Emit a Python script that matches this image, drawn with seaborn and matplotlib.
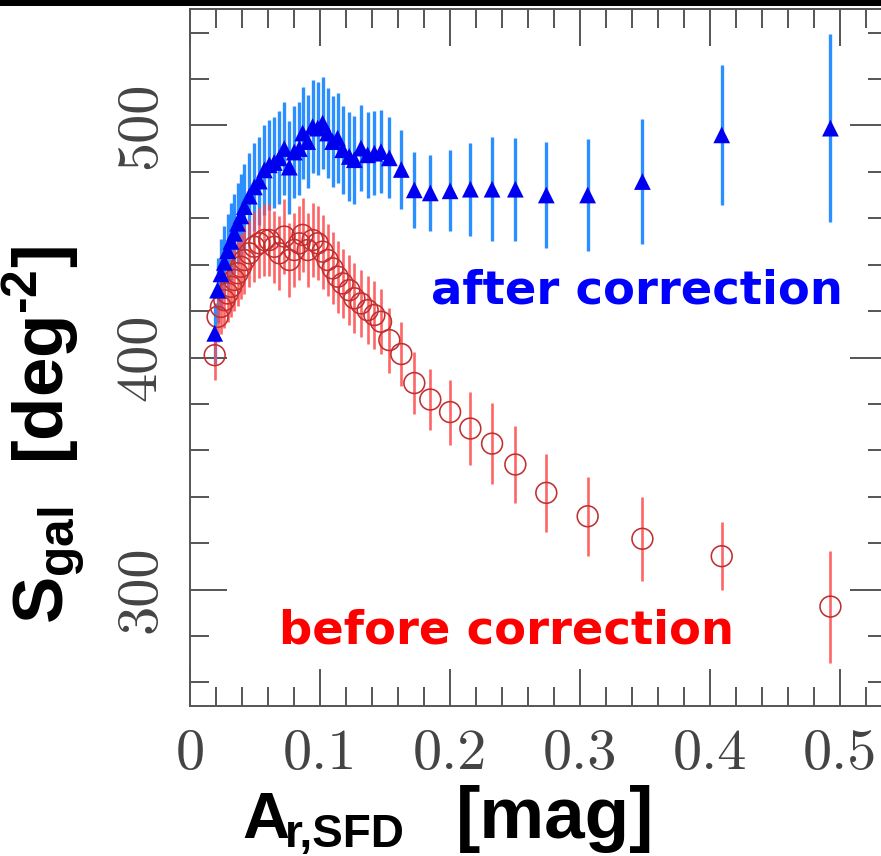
import matplotlib
matplotlib.use("Agg")
import matplotlib.pyplot as plt
import pandas as pd
import seaborn as sns
from matplotlib.patches import Rectangle
from matplotlib.ticker import MultipleLocator

# Extinction bins (A_r from SFD map, mag)
a_r = [0.0190, 0.0212, 0.0238, 0.0264, 0.0289, 0.0315, 0.0341, 0.0366, 0.0392, 0.0418,
       0.0456, 0.0495, 0.0533, 0.0572, 0.0610, 0.0648, 0.0687, 0.0725, 0.0764, 0.0802,
       0.0841, 0.0866, 0.0905, 0.0943, 0.0982, 0.1020, 0.1058, 0.1097, 0.1135, 0.1174,
       0.1225, 0.1264, 0.1315, 0.1366, 0.1418, 0.1469, 0.1533, 0.1625,
       0.1725, 0.1848, 0.2000, 0.2156, 0.2323, 0.2502, 0.2740, 0.3058, 0.3479, 0.4089, 0.4925]

# Galaxy surface density before the extinction correction (deg^-2)
s_before = [401.0, 417.5, 421.8, 424.7, 427.6, 430.5, 433.4, 436.3, 439.1, 442.0,
            444.9, 447.7, 449.2, 450.6, 450.6, 447.7, 444.9, 452.1, 442.0, 446.3,
            449.2, 452.8, 446.3, 450.6, 449.2, 445.6, 442.0, 438.4, 434.8, 431.9,
            429.0, 425.5, 423.3, 420.4, 418.3, 415.4, 407.5, 401.5,
            389.0, 381.9, 376.5, 369.4, 362.9, 353.9, 341.7, 331.6, 321.9, 314.4, 292.7]
err_before = [10.5, 11.0, 11.5, 12.0, 12.5, 13.0, 13.5, 14.0, 14.0, 14.5,
              14.5, 15.0, 15.0, 15.5, 15.5, 15.5, 16.0, 16.0, 16.0, 16.0,
              16.0, 16.0, 16.0, 16.0, 16.0, 16.0, 15.5, 15.5, 15.5, 15.0,
              15.0, 15.0, 14.5, 14.5, 14.5, 14.0, 14.0, 13.7,
              13.3, 13.3, 14.0, 15.6, 17.3, 16.6, 16.7, 17.0, 18.1, 14.7, 24.1]

# Galaxy surface density after the extinction correction (deg^-2)
s_after = [410.4, 429.0, 436.0, 441.0, 446.0, 450.0, 453.5, 457.8, 461.0, 465.0,
           469.5, 473.5, 476.0, 480.8, 483.0, 484.0, 486.0, 490.0, 482.0, 488.5,
           490.0, 496.7, 493.0, 499.5, 498.8, 501.0, 496.7, 493.0, 494.5, 489.5,
           486.6, 485.2, 490.2, 487.3, 488.0, 488.7, 486.0, 481.0,
           472.2, 470.9, 471.8, 472.5, 472.5, 472.5, 470.0, 470.0, 475.8, 495.9, 498.8]
err_after = [13.0, 14.0, 15.0, 15.5, 16.0, 16.5, 17.0, 17.5, 18.0, 18.5,
             18.5, 19.0, 19.0, 19.5, 19.5, 19.5, 20.0, 20.0, 20.0, 20.0,
             20.0, 20.0, 20.0, 20.0, 20.0, 20.0, 19.5, 19.5, 19.5, 19.0,
             19.0, 19.0, 18.5, 18.5, 18.0, 18.0, 17.5, 17.0,
             16.3, 16.3, 17.5, 20.1, 22.4, 22.1, 22.8, 24.0, 27.1, 30.2, 40.4]

x_ticks = [0.0, 0.1, 0.2, 0.3, 0.4, 0.5]
x_tick_labels = ["0", "0.1", "0.2", "0.3", "0.4", "0.5"]
y_ticks = [300, 400, 500]
y_tick_labels = ["300", "400", "500"]

sns.set_style("white")
plt.rcParams.update({
    "font.family": ["Liberation Sans", "DejaVu Sans"],
    "mathtext.fontset": "custom",
    "mathtext.rm": "Liberation Sans:bold",
    "mathtext.it": "Liberation Sans:bold",
    "mathtext.bf": "Liberation Sans:bold",
    "xtick.bottom": True, "xtick.top": True,
    "ytick.left": True, "ytick.right": True,
    "xtick.direction": "in", "ytick.direction": "in",
    "xtick.major.size": 26.5, "ytick.major.size": 26.5,
    "xtick.minor.size": 13.5, "ytick.minor.size": 13.5,
    "xtick.major.width": 1.4, "ytick.major.width": 1.4,
    "xtick.minor.width": 1.4, "ytick.minor.width": 1.4,
    "xtick.color": "#555555", "ytick.color": "#555555",
    "xtick.major.pad": 17, "ytick.major.pad": 17,
})

df = pd.DataFrame({
    "a_r": a_r,
    "before": s_before,
    "err_before": err_before,
    "after": s_after,
    "err_after": err_after,
})

W, H = 881, 856
fig = plt.figure(figsize=(W / 100, H / 100), dpi=100)
fig.patch.set_facecolor("white")
ax = fig.add_axes([190 / W, (H - 705.7) / H, 697 / W, (705.7 - 9.3) / H])

# error bars
ax.errorbar(df["a_r"], df["after"], yerr=df["err_after"], fmt="none",
            ecolor="#2b8fff", elinewidth=2.4, capsize=0, zorder=1)
ax.errorbar(df["a_r"], df["before"], yerr=df["err_before"], fmt="none",
            ecolor="#ff4a4a", elinewidth=1.9, capsize=0, alpha=0.85, zorder=2)

# markers
sns.scatterplot(data=df, x="a_r", y="before", marker="o", s=225,
                facecolor="none", edgecolor="#c03030", linewidth=1.15,
                ax=ax, zorder=3, legend=False)
sns.scatterplot(data=df, x="a_r", y="after", marker="^", s=145,
                color="#0000f0", edgecolor="none", linewidth=0,
                ax=ax, zorder=4, legend=False)

ax.set_xlim(0, 0.536)
ax.set_ylim(250, 550)
ax.set_xticks(x_ticks)
ax.set_xticklabels(x_tick_labels)
ax.set_yticks(y_ticks)
ax.set_yticklabels(y_tick_labels)
ax.xaxis.set_minor_locator(MultipleLocator(0.02))
ax.yaxis.set_minor_locator(MultipleLocator(20))
ax.set_xlabel("")
ax.set_ylabel("")

ax.tick_params(which="both", direction="in", bottom=True, left=True,
               top=True, right=True, color="#555555", width=1.4)
ax.tick_params(which="major", length=26.5, pad=17)
ax.tick_params(which="minor", length=13.5)
ax.tick_params(axis="y", labelrotation=90)
for lab in ax.get_xticklabels() + ax.get_yticklabels():
    lab.set_fontfamily("cmr10")
    lab.set_fontsize(42)
    lab.set_color("#444444")
for lab in ax.get_yticklabels():
    lab.set_verticalalignment("center")

for sp in ax.spines.values():
    sp.set_color("#555555")
    sp.set_linewidth(1.4)

ax.text(0.3437, 423.4, "after correction", color="#0000ff", fontsize=33.5,
        fontweight="bold", family="DejaVu Sans", ha="center", va="baseline", zorder=5)
ax.text(0.2431, 276.7, "before correction", color="#ff0000", fontsize=33.5,
        fontweight="bold", family="DejaVu Sans", ha="center", va="baseline", zorder=5)

# x-axis label, composed from main symbol, subscript and unit
lab_kw = dict(fontweight="bold", family="Liberation Sans", color="black")
fig.text(242 / W, (H - 838) / H, "A", fontsize=47, ha="left", va="baseline", **lab_kw)
fig.text(285 / W, (H - 847) / H, "r,SFD", fontsize=33, ha="left", va="baseline", **lab_kw)
fig.text(456 / W, (H - 838) / H, "[mag]", fontsize=52.5, ha="left", va="baseline", **lab_kw)

# y-axis label
fig.text(63 / W, (H - 435) / H, r"$S_{gal}$  [deg$^{\text{-2}}$]", fontsize=51,
         rotation=90, rotation_mode="anchor", ha="center", va="baseline", **lab_kw)

fig.add_artist(Rectangle((0, 1 - 6 / H), 1, 6 / H, transform=fig.transFigure,
                         facecolor="black", edgecolor="none", zorder=10))

fig.savefig("out.png", dpi=100)
